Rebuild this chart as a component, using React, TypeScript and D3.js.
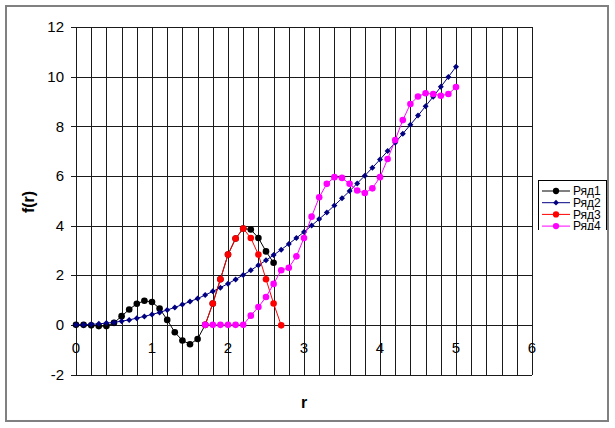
import React from "react";
import * as d3 from "d3";

const r1X = [0,0.1,0.2,0.3,0.4,0.5,0.6,0.7,0.8,0.9,1.0,1.1,1.2,1.3,1.4,1.5,1.6,1.7,1.8,1.9,2.0,2.1,2.2,2.3,2.4,2.5,2.6];
const r1Y = [0,0,-0.02,-0.05,-0.05,0.08,0.35,0.62,0.85,0.97,0.92,0.66,0.2,-0.3,-0.63,-0.78,-0.57,0,0.86,1.84,2.83,3.48,3.88,3.84,3.5,2.96,2.5];

const r2X = [0,0.1,0.2,0.3,0.4,0.5,0.6,0.7,0.8,0.9,1.0,1.1,1.2,1.3,1.4,1.5,1.6,1.7,1.8,1.9,2.0,2.1,2.2,2.3,2.4,2.5,2.6,2.7,2.8,2.9,3.0,3.1,3.2,3.3,3.4,3.5,3.6,3.7,3.8,3.9,4.0,4.1,4.2,4.3,4.4,4.5,4.6,4.7,4.8,4.9,5.0];
const r2Y = [0.00,0.00,0.02,0.04,0.07,0.10,0.15,0.20,0.27,0.34,0.42,0.50,0.60,0.70,0.82,0.94,1.06,1.20,1.35,1.50,1.66,1.83,2.01,2.20,2.40,2.60,2.81,3.03,3.26,3.50,3.74,4.00,4.26,4.53,4.81,5.10,5.39,5.70,6.01,6.33,6.66,7.00,7.34,7.70,8.06,8.43,8.81,9.19,9.59,9.99,10.40];

const r3X = [1.7,1.8,1.9,2.0,2.1,2.2,2.3,2.4,2.5,2.6,2.7];
const r3Y = [0,0.86,1.84,2.83,3.48,3.88,3.5,2.83,1.84,0.86,-0.02];

const r4X = [1.7,1.8,1.9,2.0,2.1,2.2,2.3,2.4,2.5,2.6,2.7,2.8,2.9,3.0,3.1,3.2,3.3,3.4,3.5,3.6,3.7,3.8,3.9,4.0,4.1,4.2,4.3,4.4,4.5,4.6,4.7,4.8,4.9,5.0];
const r4Y = [0,0,0,0,0,0,0.37,0.72,1.12,1.65,2.2,2.3,2.76,3.5,4.36,5.14,5.68,5.95,5.92,5.68,5.41,5.31,5.5,5.95,6.68,7.45,8.25,8.9,9.2,9.33,9.3,9.23,9.3,9.58];

const seriesNames = ["Ряд1", "Ряд2", "Ряд3", "Ряд4"];
const seriesColors = ["#000000", "#000080", "#FF0000", "#FF00FF"];
const seriesMarkers = ["circle", "diamond", "circle", "circle"];

const xTickLabels = [0, 1, 2, 3, 4, 5, 6];
const yTickLabels = [-2, 0, 2, 4, 6, 8, 10, 12];

export default function App() {
  const W = 615, H = 428;
  const x = d3.scaleLinear().domain([0, 6]).range([76, 532]);
  const y = d3.scaleLinear().domain([-2, 12]).range([374.5, 27]);
  const font = "'Liberation Sans', Arial, sans-serif";

  const series = [
    { xs: r1X, ys: r1Y },
    { xs: r2X, ys: r2Y },
    { xs: r3X, ys: r3Y },
    { xs: r4X, ys: r4Y },
  ];

  const line = d3.line<[number, number]>().x((d) => x(d[0])).y((d) => y(d[1]));
  const vGrid = d3.range(0, 31).map((i) => i * 0.2);

  const marker = (kind: string, cx: number, cy: number, color: string, key: any, s = 1) =>
    kind === "diamond" ? (
      <path key={key} d={`M${cx},${cy - 3 * s}L${cx + 3 * s},${cy}L${cx},${cy + 3 * s}L${cx - 3 * s},${cy}Z`} fill={color} />
    ) : (
      <circle key={key} cx={cx} cy={cy} r={3.3 * s} fill={color} />
    );

  const lx = 538, ly = 180, lw = 68, lh = 50;

  return (
    <svg width={W} height={H} style={{ position: "absolute", left: 0, top: 0, background: "#fff" }}>
      <rect x={0} y={0} width={W} height={H} fill="#fff" />
      <rect x={6} y={6} width={602} height={415} fill="#fff" stroke="#808080" strokeWidth={2} />
      {/* grid */}
      <g shapeRendering="crispEdges" stroke="#1a1a1a" strokeWidth={1}>
        {vGrid.map((v, i) => (
          <line key={"v" + i} x1={Math.round(x(v)) + 0.5} x2={Math.round(x(v)) + 0.5} y1={y(12)} y2={y(-2)} />
        ))}
        {yTickLabels.map((v) => (
          <line key={"h" + v} x1={71} x2={x(6)} y1={Math.round(y(v)) + 0.5} y2={Math.round(y(v)) + 0.5} />
        ))}
      </g>
      {/* tick labels */}
      <g fontFamily={font} fontSize={15} fill="#000">
        {yTickLabels.map((v) => (
          <text key={"yl" + v} x={64} y={y(v)} dy="0.35em" textAnchor="end">{v}</text>
        ))}
        {xTickLabels.map((v) => (
          <text key={"xl" + v} x={x(v)} y={347.5} dy="0.35em" textAnchor="middle">{v}</text>
        ))}
      </g>
      <text x={304} y={402} dy="0.35em" textAnchor="middle" fontFamily={font} fontSize={16} fontWeight="bold">r</text>
      <text transform={`translate(28,202) rotate(-90)`} dy="0.35em" textAnchor="middle" fontFamily={font} fontSize={16} fontWeight="bold">f(r)</text>
      {/* series */}
      {series.map((s, si) => {
        const pts: [number, number][] = s.xs.map((xv, i) => [xv, s.ys[i]]);
        return (
          <g key={"s" + si}>
            <path d={line(pts) || ""} fill="none" stroke={seriesColors[si]} strokeWidth={1} />
            {pts.map((p, i) => marker(seriesMarkers[si], x(p[0]), y(p[1]), seriesColors[si], i))}
          </g>
        );
      })}
      {/* legend (clipped at the bottom, as in the reference) */}
      <defs>
        <clipPath id="legclip">
          <rect x={lx} y={ly} width={lw + 1} height={lh} />
        </clipPath>
      </defs>
      <g clipPath="url(#legclip)">
        <rect x={lx + 0.5} y={ly + 0.5} width={lw} height={lh + 10} fill="#fff" stroke="#000" strokeWidth={1} />
        {seriesNames.map((n, i) => {
          const cy = 191 + i * 11.7;
          return (
            <g key={"lg" + i}>
              <line x1={542} x2={570} y1={cy} y2={cy} stroke={seriesColors[i]} strokeWidth={1} />
              {marker(seriesMarkers[i], 556, cy, seriesColors[i], "m" + i, 0.95)}
              <text x={573} y={cy} dy="0.35em" fontFamily={font} fontSize={12} fill="#000">{n}</text>
            </g>
          );
        })}
      </g>
    </svg>
  );
}
